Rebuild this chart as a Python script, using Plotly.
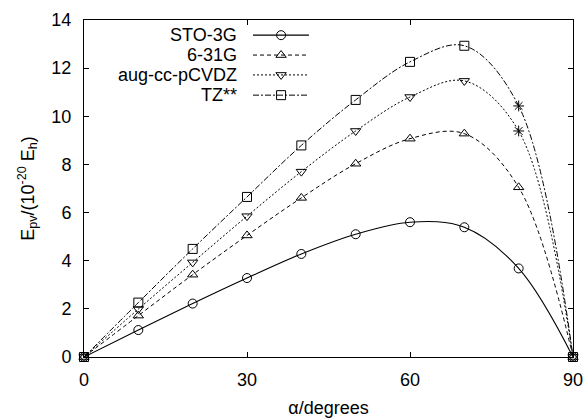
import plotly.graph_objects as go

angles = [0, 10, 20, 30, 40, 50, 60, 70, 80, 90]
sto3g = [0, 1.12, 2.22, 3.28, 4.28, 5.10, 5.60, 5.39, 3.68, 0]
g631 = [0, 1.72, 3.42, 5.05, 6.61, 8.03, 9.07, 9.28, 7.05, 0]
augcc = [0, 1.99, 3.93, 5.85, 7.70, 9.39, 10.80, 11.47, 9.39, 0]
tz = [0, 2.26, 4.49, 6.65, 8.79, 10.68, 12.26, 12.93, 10.43, 0]
series_names = ["STO-3G", "6-31G", "aug-cc-pCVDZ", "TZ**"]
x_ticks = [0, 30, 60, 90]
y_ticks = [0, 2, 4, 6, 8, 10, 12, 14]

FONT = "Liberation Sans, Arial, Helvetica, sans-serif"
styles = [
    dict(dash="solid", symbol="circle-open", size=9, width=1.1),
    dict(dash="4px,3px", symbol="triangle-up-open", size=9, width=1),
    dict(dash="2px,2px", symbol="triangle-down-open", size=9, width=1),
    dict(dash="6px,2px,2px,2px", symbol="square-open", size=9, width=1),
]
values = [sto3g, g631, augcc, tz]
# asterisk marks at alpha = 80 for the last two series
asterisk_series = {2, 3}

fig = go.Figure()
for i, (name, vals, st) in enumerate(zip(series_names, values, styles)):
    syms = [st["symbol"]] * len(angles)
    if i in asterisk_series:
        syms[angles.index(80)] = "asterisk-open"
    fig.add_trace(go.Scatter(
        x=angles, y=vals, name=name, mode="lines+markers",
        line=dict(color="black", width=st["width"], dash=st["dash"],
                  shape="spline", smoothing=1.0),
        marker=dict(symbol=syms, size=st["size"], color="black",
                    line=dict(color="black", width=1)),
        cliponaxis=False, showlegend=False,
    ))

# custom legend (text on the left, sample on the right), in overlay axis coords
leg_rows = [0.955, 0.896, 0.837, 0.777]
leg_x0, leg_xm, leg_x1, leg_text_x = 0.3456, 0.403, 0.460, 0.317
for name, st, ry in zip(series_names, styles, leg_rows):
    fig.add_trace(go.Scatter(
        x=[leg_x0, leg_x1], y=[ry, ry], mode="lines", xaxis="x2", yaxis="y2",
        line=dict(color="black", width=st["width"], dash=st["dash"]),
        showlegend=False, hoverinfo="skip"))
    fig.add_trace(go.Scatter(
        x=[leg_xm], y=[ry], mode="markers", xaxis="x2", yaxis="y2",
        marker=dict(symbol=st["symbol"], size=st["size"], color="black",
                    line=dict(color="black", width=1)),
        showlegend=False, hoverinfo="skip"))
    fig.add_annotation(x=leg_text_x, y=ry, xref="x2", yref="y2", text=name,
                       showarrow=False, xanchor="right", yanchor="middle",
                       font=dict(family=FONT, size=18, color="black"))

axis_common = dict(showline=True, linecolor="black", linewidth=1, mirror="ticks",
                   ticks="inside", ticklen=5, tickcolor="black", tickwidth=1,
                   showgrid=False, zeroline=False, automargin=False,
                   tickfont=dict(family=FONT, size=18, color="black"))

fig.update_layout(
    width=587, height=419,
    margin=dict(l=84, r=14, t=20, b=62),
    paper_bgcolor="white", plot_bgcolor="white",
    font=dict(family=FONT, size=18, color="black"),
    xaxis=dict(range=[0, 90], tickvals=x_ticks, ticklabelstandoff=6,
               title=dict(text="α/degrees", standoff=12,
                          font=dict(family=FONT, size=18)),
               **axis_common),
    yaxis=dict(range=[0, 14], tickvals=y_ticks, ticklabelstandoff=8,
               title=dict(text="E<sub>pv</sub>/(10<sup>-20</sup> E<sub>h</sub>)",
                          standoff=12, font=dict(family=FONT, size=18)),
               **axis_common),
    xaxis2=dict(range=[0, 1], overlaying="x", visible=False),
    yaxis2=dict(range=[0, 1], overlaying="y", visible=False),
)

fig.write_html("out.html",
               config={"displayModeBar": False},
               post_script="document.body.style.margin='0';"
                           "document.body.style.overflow='hidden';")
